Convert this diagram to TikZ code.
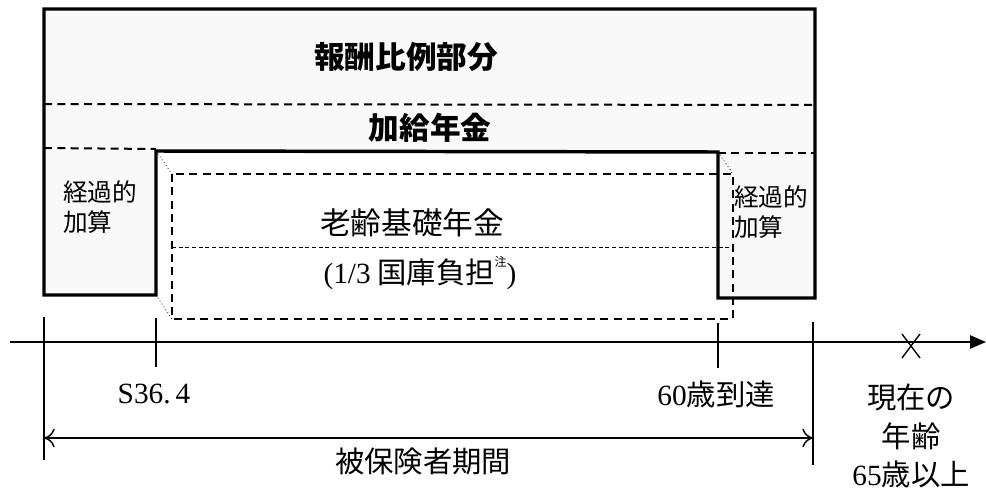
\documentclass[tikz,border=0pt]{standalone}
\usepackage{fontspec}
\setmainfont{Liberation Serif}
\newfontfamily\jpsans{Noto Sans CJK JP}
\newcommand{\lat}[1]{{\rmfamily #1}}
\usetikzlibrary{arrows.meta,calc}
\tikzset{
  outline/.style={line width=2.6pt, line join=miter},
  sepdash/.style={line width=1.5pt, dash pattern=on 6pt off 4pt},
  innerdash/.style={line width=1.1pt, dash pattern=on 6pt off 4pt},
  finedash/.style={line width=0.6pt, dash pattern=on 3pt off 2pt},
  persp/.style={line width=0.6pt, dotted},
  axisline/.style={line width=1.2pt},
  tickline/.style={line width=1.1pt},
  lbl/.style={inner sep=0pt, font=\jpsans\fontsize{22}{26}\selectfont},
  bigb/.style={inner sep=0pt, font=\jpsans\bfseries\fontsize{23}{27}\selectfont},
  sidelbl/.style={inner sep=0pt, align=left, font=\jpsans\fontsize{18.5}{23}\selectfont},
}
\begin{document}
\begin{tikzpicture}[x=0.75pt,y=-0.75pt]
\useasboundingbox (0,0) rectangle (986,493);
% gray region
\fill[black!2.5] (44,9) -- (815,9) -- (815,298) -- (718,298) -- (718,152) -- (156,151) -- (156,295) -- (44,295) -- cycle;
% separators
\draw[sepdash] (44,104) -- (815,105);
\draw[sepdash] (44,148) -- (156,149);
\draw[sepdash] (718,153) -- (815,153);
% inner dashed box
\draw[innerdash] (172,174) rectangle (733,319);
\draw[finedash] (172,247) -- (733,247);
% perspective lines
\draw[persp] (156,151) -- (172,174);
\draw[persp] (718,152) -- (733,174);
\draw[persp] (156,295) -- (172,319);
% outline
\draw[outline] (44,9) -- (815,9) -- (815,298) -- (718,298) -- (718,152) -- (156,151) -- (156,295) -- (44,295) -- cycle;
% labels in boxes
\node[bigb] (hoshu) at (406,57) {報酬比例部分};
\node[bigb] (kakyu) at (430,128) {加給年金};
\node[sidelbl, anchor=west] (keikaL) at (63,207) {経過的\\加算};
\node[sidelbl, anchor=west] (keikaR) at (734,212) {経過的\\加算};
\node[lbl, font=\jpsans\fontsize{23}{27}\selectfont] (kiso) at (412,223) {老齢基礎年金};
\node[lbl] (kokko) at (420,273) {\lat{(1/3} 国庫負担\raisebox{0.55em}{\fontsize{9}{10}\selectfont 注}\lat{)}};
% axis
\coordinate (axL) at (10,342);
\coordinate (axR) at (986,342);
\draw[axisline, -{Triangle[length=12pt,width=10pt]}] (axL) -- (axR);
% ticks
\coordinate (t1a) at (44,317); \coordinate (t1b) at (44,460);
\coordinate (t2a) at (156,318); \coordinate (t2b) at (156,367);
\coordinate (t3a) at (718,323); \coordinate (t3b) at (718,368);
\coordinate (t4a) at (813,322); \coordinate (t4b) at (813,465);
\draw[tickline] (t1a) -- (t1b);
\draw[tickline] (t2a) -- (t2b);
\draw[tickline] (t3a) -- (t3b);
\draw[tickline] (t4a) -- (t4b);
% X mark
\coordinate (xm) at (911,346);
\draw[line width=1pt] ($(xm)+(-9,-12)$) -- ($(xm)+(9,12)$) ($(xm)+(9,-12)$) -- ($(xm)+(-9,12)$);
% double arrow
\coordinate (daL) at (44,438);
\coordinate (daR) at (813,438);
\draw[line width=1.1pt, {To[length=8pt,width=14pt]}-{To[length=8pt,width=14pt]}] (daL) -- (daR);
% bottom labels
\node[lbl] (s36) at (154,394) {\lat{S36.\,4}};
\node[lbl] (age60) at (716,394) {\lat{60}歳到達};
\node[lbl, align=center, font=\jpsans\fontsize{22}{29}\selectfont] (now) at (911,436) {現在の\\年齢\\\lat{65}歳以上};
\node[lbl] (hiho) at (423,461) {被保険者期間};
\end{tikzpicture}
\end{document}
